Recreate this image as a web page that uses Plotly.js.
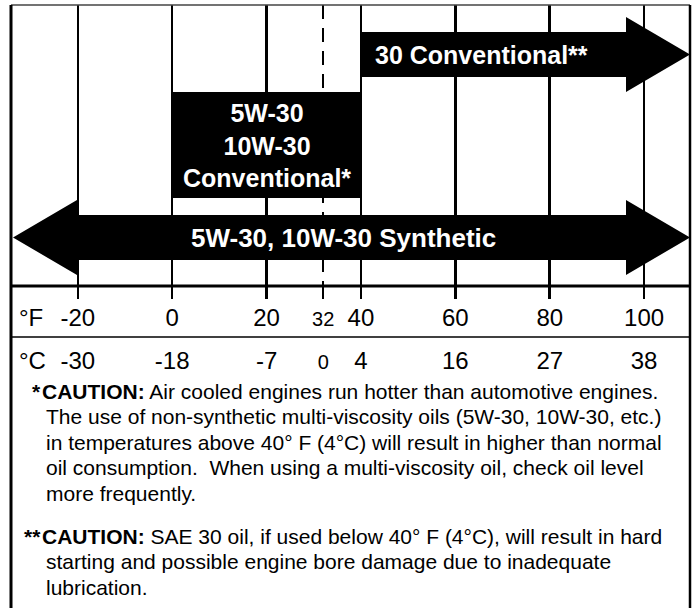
<!DOCTYPE html>
<html><head><meta charset="utf-8">
<script src="https://cdn.plot.ly/plotly-3.0.1.min.js"></script>
<style>html,body{margin:0;padding:0;background:#fff;overflow:hidden}</style>
</head><body><div id="chart" style="width:693px;height:608px"></div>
<script>
// ---------------- data ----------------
const fahrenheitTicks = [-20, 0, 20, 32, 40, 60, 80, 100];
const celsiusTicks = ['-30', '-18', '-7', '0', '4', '16', '27', '38'];
const freezingF = 32;
const oilNames = ['30 Conventional**', '5W-30<br>10W-30<br>Conventional*', '5W-30, 10W-30 Synthetic'];
const oilMinF = [40, 0, null];    // null = no lower limit (arrow)
const oilMaxF = [null, 40, null]; // null = no upper limit (arrow)
const note1Marker = '*';
const note1Lines = [
  '<b>CAUTION:</b> Air cooled engines run hotter than automotive engines.',
  'The use of non-synthetic multi-viscosity oils (5W-30, 10W-30, etc.)',
  'in temperatures above 40° F (4°C) will result in higher than normal',
  'oil consumption.\u00a0 When using a multi-viscosity oil, check oil level',
  'more frequently.'
];
const note2Marker = '**';
const note2Lines = [
  '<b>CAUTION:</b> SAE 30 oil, if used below 40° F (4°C), will result in hard',
  'starting and possible engine bore damage due to inadequate',
  'lubrication.'
];

// ---------------- layout helpers ----------------
const W = 693, H = 608;
const zeroPx = 172.2, pxPerF = 4.719;
const xr0 = -zeroPx / pxPerF, xr1 = xr0 + W / pxPerF;
const fx = px => xr0 + px / pxPerF;   // pixel x -> °F
const py = px => 1 - px / H;          // pixel y -> paper
const pxx = px => px / W;             // pixel x -> paper

const FONT = "'Liberation Sans', Arial, sans-serif";
const frameL = 11, frameR = 690, frameT = 5;
const gridTop = 5, gridBottom = 299, dividerY = 286, unitDividerY = 337;

const rows = [
  {cy: 54.5, bh: 22.5, hh: 37.5},
  {cy: 145, bh: 53, hh: 53},
  {cy: 237.5, bh: 22.5, hh: 37.5}
];
const headLen = 64 / pxPerF;
const leftTip = fx(frameL + 2), rightTip = fx(frameR);

function shapePath(lo, hi, r) {
  const pts = [];
  const top = r.cy - r.bh, bot = r.cy + r.bh, htop = r.cy - r.hh, hbot = r.cy + r.hh;
  if (lo === null) {
    pts.push([leftTip, r.cy], [leftTip + headLen, htop], [leftTip + headLen, top]);
  } else {
    pts.push([lo, bot], [lo, top]);
  }
  if (hi === null) {
    pts.push([rightTip - headLen, top], [rightTip - headLen, htop], [rightTip, r.cy],
             [rightTip - headLen, hbot], [rightTip - headLen, bot]);
  } else {
    pts.push([hi, top], [hi, bot]);
  }
  if (lo === null) pts.push([leftTip + headLen, bot], [leftTip + headLen, hbot]);
  return 'M' + pts.map(p => p[0].toFixed(3) + ',' + py(p[1]).toFixed(4)).join('L') + 'Z';
}

const shapes = [];
const annotations = [];

// frame and dividers
const line = (x0, y0, x1, y1, w, c) => ({type: 'line', xref: 'paper', yref: 'paper',
  x0: pxx(x0), y0: py(y0), x1: pxx(x1), y1: py(y1), line: {color: c || '#000', width: w}, layer: 'above'});
shapes.push(line(frameL, frameT, frameR, frameT, 1.5, '#444'));
shapes.push(line(frameL, frameT, frameL, H + 5, 3));
shapes.push(line(frameR, frameT, frameR, H + 5, 2.5));
shapes.push(line(frameL, dividerY, frameR, dividerY, 3));
shapes.push(line(frameL, unitDividerY, frameR, unitDividerY, 1.5));

// oil ranges
oilNames.forEach((name, i) => {
  const lo = oilMinF[i], hi = oilMaxF[i], r = rows[i];
  shapes.push({type: 'path', xref: 'x', yref: 'paper', path: shapePath(lo, hi, r),
    fillcolor: '#000', line: {width: 0}, layer: 'above'});
  let ax, anchor;
  if (lo !== null && hi !== null) { ax = (lo + hi) / 2; anchor = 'center'; }
  else if (lo !== null) { ax = lo + 12 / pxPerF; anchor = 'left'; }
  else { ax = fx((frameL + frameR) / 2 - 7); anchor = 'center'; }
  annotations.push({xref: 'x', yref: 'paper', x: ax, y: py(r.cy), xanchor: anchor, yanchor: 'middle',
    text: '<b>' + name + '</b>', showarrow: false, align: 'center',
    font: {family: FONT, size: i === 2 ? 26 : 25, color: '#fff'}});
});

// unit labels
annotations.push({xref: 'paper', yref: 'paper', x: pxx(17), y: py(317), xanchor: 'left', yanchor: 'middle',
  text: '°F', showarrow: false, font: {family: FONT, size: 24, color: '#000'}});
annotations.push({xref: 'paper', yref: 'paper', x: pxx(17), y: py(360), xanchor: 'left', yanchor: 'middle',
  text: '°C', showarrow: false, font: {family: FONT, size: 24, color: '#000'}});

// caution notes
const noteFont = {family: FONT, size: 21, color: '#000'};
function addNote(marker, lines, y0) {
  annotations.push({xref: 'paper', yref: 'paper', x: pxx(43), y: py(y0), xanchor: 'right', yanchor: 'middle',
    text: '<b>' + marker + '</b>', showarrow: false, font: noteFont});
  lines.forEach((t, i) => {
    annotations.push({xref: 'paper', yref: 'paper', x: pxx(i === 0 ? 40 : 44), y: py(y0 + i * 25.6),
      xanchor: 'left', yanchor: 'middle', text: t, showarrow: false, font: noteFont});
  });
}
addNote(note1Marker, note1Lines, 391);
addNote(note2Marker, note2Lines, 536);

const small = s => '<span style="font-size:20px">' + s + '</span>';
const fText = fahrenheitTicks.map(t => t === freezingF ? small(t) : String(t));
const cText = celsiusTicks.map((c, i) => fahrenheitTicks[i] === freezingF ? small(c) : c);

const layout = {
  width: W, height: H,
  margin: {l: 0, r: 0, t: 0, b: 0, pad: 0},
  paper_bgcolor: '#fff', plot_bgcolor: 'rgba(0,0,0,0)',
  showlegend: false,
  xaxis: {
    range: [xr0, xr1], domain: [0, 1], anchor: 'y',
    tickmode: 'array', tickvals: fahrenheitTicks.filter(t => t !== freezingF),
    showticklabels: false, showgrid: true, gridcolor: '#000', gridwidth: 2.5,
    ticks: 'inside', ticklen: 13, tickwidth: 2.5, tickcolor: '#000',
    showline: false, zeroline: false, fixedrange: true,
    minor: {tickmode: 'array', tickvals: [freezingF], showgrid: true, griddash: '14px,9px',
      gridcolor: '#000', gridwidth: 1.5, ticks: 'inside', ticklen: 10, tickwidth: 1.5, tickcolor: '#000'}
  },
  yaxis: {domain: [py(gridBottom), py(gridTop)], range: [0, 1], visible: false, fixedrange: true},
  xaxis2: {
    overlaying: 'x', anchor: 'free', position: py(301), range: [xr0, xr1],
    tickmode: 'array', tickvals: fahrenheitTicks, ticktext: fText,
    ticks: '', showgrid: false, zeroline: false, showline: false,
    tickfont: {family: FONT, size: 24, color: '#000'}, fixedrange: true
  },
  xaxis3: {
    overlaying: 'x', anchor: 'free', position: py(344), range: [xr0, xr1],
    tickmode: 'array', tickvals: fahrenheitTicks, ticktext: cText,
    ticks: '', showgrid: false, zeroline: false, showline: false,
    tickfont: {family: FONT, size: 24, color: '#000'}, fixedrange: true
  },
  shapes: shapes,
  annotations: annotations
};

const traces = [
  {type: 'scatter', x: [xr0], y: [0], xaxis: 'x', yaxis: 'y', mode: 'markers', marker: {opacity: 0}, hoverinfo: 'skip'},
  {type: 'scatter', x: [xr0], y: [0], xaxis: 'x2', yaxis: 'y', mode: 'markers', marker: {opacity: 0}, hoverinfo: 'skip'},
  {type: 'scatter', x: [xr0], y: [0], xaxis: 'x3', yaxis: 'y', mode: 'markers', marker: {opacity: 0}, hoverinfo: 'skip'}
];

Plotly.newPlot('chart', traces, layout, {displayModeBar: false, staticPlot: true});
</script></body></html>
